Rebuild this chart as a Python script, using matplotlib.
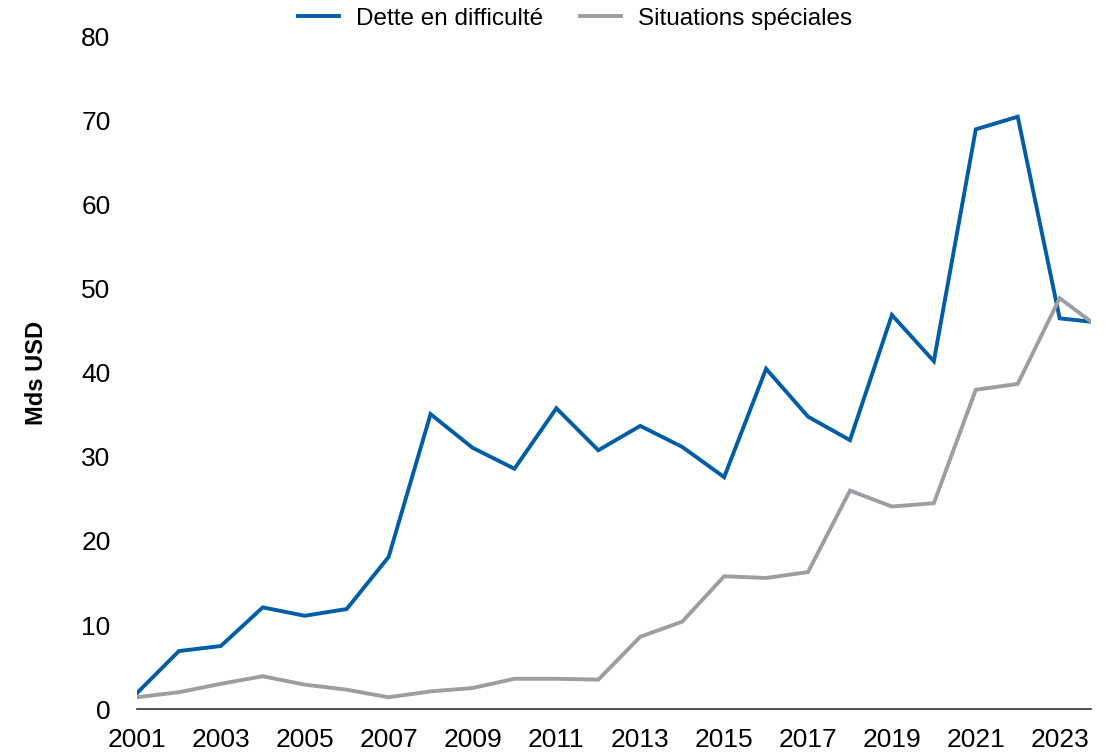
import numpy as np
import matplotlib as mpl
import matplotlib.pyplot as plt

mpl.rcParams['font.family'] = ['Liberation Sans', 'DejaVu Sans']

years = [2001, 2002, 2003, 2004, 2005, 2006, 2007, 2008, 2009, 2010, 2011, 2012,
         2013, 2014, 2015, 2016, 2017, 2018, 2019, 2020, 2021, 2022, 2023, 2023.75]
dette = [1.9, 6.9, 7.5, 12.1, 11.1, 11.9, 18.1, 35.1, 31.1, 28.6, 35.8, 30.8,
         33.7, 31.2, 27.6, 40.5, 34.8, 32.0, 46.9, 41.4, 69.0, 70.5, 46.5, 46.1]
speciales = [1.4, 2.0, 3.0, 3.9, 2.9, 2.3, 1.4, 2.1, 2.5, 3.6, 3.6, 3.5,
             8.6, 10.4, 15.8, 15.6, 16.3, 26.0, 24.1, 24.5, 38.0, 38.7, 48.9, 46.1]
tick_years = list(range(2001, 2024, 2))

BLUE = "#005DA6"
GRAY = "#9D9DA2"

fig = plt.figure(figsize=(11.1, 7.53), dpi=100)
ax = fig.add_axes([0.1234, 0.0584, 0.8596, 0.8926])
ax.plot(years, dette, color=BLUE, lw=2.8, label="Dette en difficulté", solid_joinstyle="miter")
ax.plot(years, speciales, color=GRAY, lw=2.8, label="Situations spéciales", solid_joinstyle="miter")

ax.set_xlim(2001, 2023.75)
ax.set_ylim(0, 80)
ax.set_yticks(range(0, 81, 10))
ax.set_xticks(tick_years)
ax.tick_params(axis="both", length=0, labelsize=19)
ax.tick_params(axis="x", pad=14)
ax.tick_params(axis="y", pad=19)
for s in ["top", "right", "left"]:
    ax.spines[s].set_visible(False)
ax.spines["bottom"].set_color("#333333")
ax.spines["bottom"].set_linewidth(1.2)
ax.set_ylabel("Mds USD", fontsize=17, fontweight="bold")
ax.yaxis.set_label_coords(-0.093, 0.5)

fig.legend(loc="center", bbox_to_anchor=(0.518, 0.975), ncol=2, frameon=False,
           fontsize=17.5, handlelength=1.7, handletextpad=0.7, columnspacing=1.5)
fig.savefig("out.png", dpi=100)
